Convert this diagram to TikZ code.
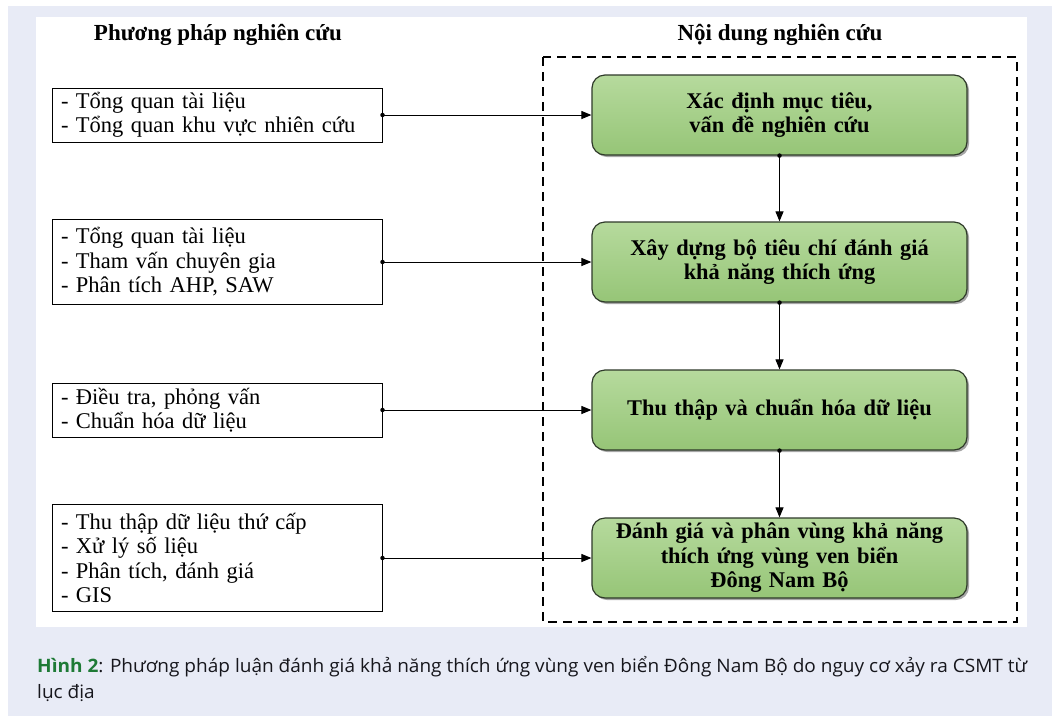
\documentclass[tikz,border=0pt]{standalone}
\usepackage{fontspec}
\setmainfont{Liberation Serif}
\newfontfamily\capfont{Open Sans}
\usetikzlibrary{arrows.meta,shadows}
\definecolor{bgblue}{HTML}{E8EBF6}
\definecolor{gtop}{HTML}{B6DA9D}
\definecolor{gbot}{HTML}{96C577}
\definecolor{gborder}{HTML}{2F3A2A}
\definecolor{capgreen}{HTML}{1E7A36}
\definecolor{captext}{HTML}{16161C}
\tikzset{
  method/.style={draw=black, line width=1pt, fill=white, minimum width=330pt, align=left,
    anchor=center, inner sep=0pt, font=\fontsize{22.5}{24.5}\selectfont, text width=312pt},
  content/.style={draw=gborder, line width=1.2pt, rounded corners=13pt, top color=gtop, bottom color=gbot,
    minimum width=375pt, minimum height=80pt, align=center, inner sep=0pt,
    font=\bfseries\fontsize{22.4}{24.5}\selectfont, text width=365pt,
    drop shadow={shadow xshift=2pt, shadow yshift=-2pt, opacity=0.35, fill=black}},
  header/.style={font=\bfseries\fontsize{23}{24}\selectfont},
  link/.style={line width=1pt, -{Triangle[length=10pt,width=8pt]}},
  dotstart/.style={circle, fill=black, inner sep=0pt, minimum size=4.5pt},
  capline/.style={anchor=base west, inner sep=0pt, text=captext}
}
\newsavebox\caplineA
\newlength\capw
\begin{document}
\sbox\caplineA{\capfont\fontsize{18.5}{26}\selectfont\color{captext}\textcolor{capgreen}{\bfseries Hình 2}: Phương pháp luận đánh giá khả năng thích ứng vùng ven biển Đông Nam Bộ do nguy cơ xảy ra CSMT từ}%
\setlength\capw{\wd\caplineA}%
\pgfmathsetmacro\capf{990/\capw}%
\begin{tikzpicture}[x=1pt,y=-1pt]
\useasboundingbox (0,0) rectangle (1058,716);
\fill[white] (0,0) rectangle (1058,716);
\fill[bgblue] (8,6) rectangle (1052,716);
\fill[white] (36,17) rectangle (1027,627);

\node[header] (h1) at (218,35) {Phương pháp nghiên cứu};
\node[header] (h2) at (780,35) {Nội dung nghiên cứu};

\draw[line width=1.8pt, dash pattern=on 9pt off 6pt] (543,57) rectangle (1017,622);

\node[method, minimum height=54pt] (m1) at (217,115) {- Tổng quan tài liệu\\- Tổng quan khu vực nhiên cứu};
\node[method, minimum height=85pt] (m2) at (217,262) {- Tổng quan tài liệu\\- Tham vấn chuyên gia\\- Phân tích AHP, SAW};
\node[method, minimum height=54pt] (m3) at (217,410) {- Điều tra, phỏng vấn\\- Chuẩn hóa dữ liệu};
\node[method, minimum height=107pt] (m4) at (217,558) {- Thu thập dữ liệu thứ cấp\\- Xử lý số liệu\\- Phân tích, đánh giá\\- GIS};

\node[content] (c1) at (779.5,115) {Xác định mục tiêu,\\vấn đề nghiên cứu};
\node[content] (c2) at (779.5,262) {Xây dựng bộ tiêu chí đánh giá\\khả năng thích ứng};
\node[content] (c3) at (779.5,410) {Thu thập và chuẩn hóa dữ liệu};
\node[content] (c4) at (779.5,558) {Đánh giá và phân vùng khả năng\\thích ứng vùng ven biển\\Đông Nam Bộ};

\foreach \a/\b in {m1/c1,m2/c2,m3/c3,m4/c4}{
  \draw[link] (\a.east) -- (\b.west);
  \node[dotstart] at (\a.east) {};
}
\foreach \a/\b in {c1/c2,c2/c3,c3/c4}{
  \draw[link] (\a.south) -- (\b.north);
  \node[dotstart] at (\a.south) {};
}

\node[capline] (cap1) at (37,672) {\scalebox{\capf}[1]{\usebox\caplineA}};
\node[capline] (cap2) at (37,698) {\scalebox{\capf}[1]{\capfont\fontsize{18.5}{26}\selectfont lục địa}};
\end{tikzpicture}
\end{document}
